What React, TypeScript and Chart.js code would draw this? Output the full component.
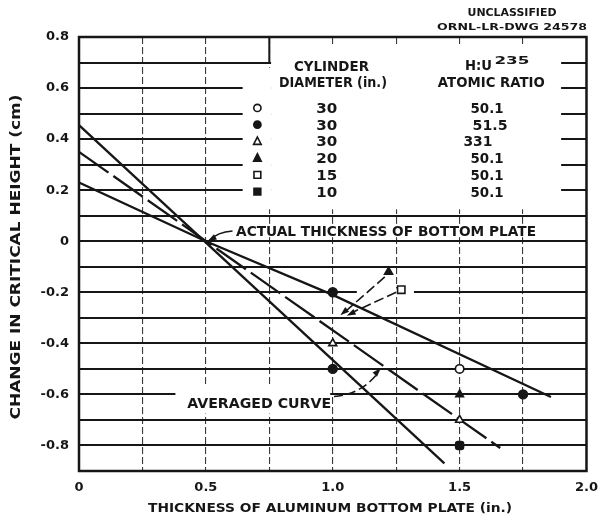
import React, { useEffect, useRef } from 'react';
import { Chart, registerables } from 'chart.js';

Chart.register(...registerables);

// ---------------- data ----------------
const xTickValues = [0, 0.5, 1.0, 1.5, 2.0];
const xTickLabels = ['0', '0.5', '1.0', '1.5', '2.0'];
const yTickValues = [0.8, 0.6, 0.4, 0.2, 0, -0.2, -0.4, -0.6, -0.8];
const yTickLabels = ['0.8', '0.6', '0.4', '0.2', '0', '-0.2', '-0.4', '-0.6', '-0.8'];

// fitted curves (thickness in., change in critical height cm)
const steepThickness = [0, 1.44];
const steepChange = [0.455, -0.87];
const averagedThickness = [0, 1.66];
const averagedChange = [0.35, -0.81];
const shallowThickness = [0, 0.5, 1.0, 1.86];
const shallowChange = [0.23, 0, -0.21, -0.61];

// measured points
const openCircleX = [1.5];
const openCircleY = [-0.5];
const filledCircleX = [1.0, 1.0, 1.75];
const filledCircleY = [-0.2, -0.5, -0.6];
const openTriangleX = [1.0, 1.5];
const openTriangleY = [-0.4, -0.7];
const filledTriangleX = [1.5];
const filledTriangleY = [-0.6];
const filledSquareX = [1.5];
const filledSquareY = [-0.8];

// call-out symbols (point to values near 1.0 in.)
const calloutTriangleX = [1.22];
const calloutTriangleY = [-0.12];
const calloutSquareX = [1.27];
const calloutSquareY = [-0.19];

// legend table
const legendStyles = ['circle', 'circle', 'triangle', 'triangle', 'rect', 'rect'];
const legendFilled = [false, true, false, true, false, true];
const legendDiameters = ['30', '30', '30', '20', '15', '10'];
const legendRatios = ['50.1', '51.5', '331', '50.1', '50.1', '50.1'];

// ---------------- drawing helpers ----------------
const INK = '#161616';
const FAMILY = '"DejaVu Sans", sans-serif';

const pts = (xs: number[], ys: number[]) => xs.map((x, i) => ({ x, y: ys[i] }));

// draws text centred at (cx, cy), stretched horizontally to the given width
function fitText(
  ctx: CanvasRenderingContext2D,
  text: string,
  cx: number,
  cy: number,
  width: number,
  size: number,
  angle = 0,
  weight = 'bold'
) {
  ctx.save();
  ctx.font = `${weight} ${size}px ${FAMILY}`;
  (ctx as any).letterSpacing = '0px';
  const w0 = ctx.measureText(text).width;
  const sx = width / w0;
  ctx.translate(cx, cy);
  ctx.rotate(angle);
  ctx.scale(sx, 1);
  ctx.fillStyle = INK;
  ctx.textAlign = 'center';
  ctx.textBaseline = 'alphabetic';
  ctx.fillText(text, 0, size * 0.365);
  ctx.restore();
}

function arrowHead(ctx: CanvasRenderingContext2D, fx: number, fy: number, tx: number, ty: number, len = 8, half = 3) {
  const a = Math.atan2(ty - fy, tx - fx);
  ctx.beginPath();
  ctx.moveTo(tx, ty);
  ctx.lineTo(tx - len * Math.cos(a) + half * Math.sin(a), ty - len * Math.sin(a) - half * Math.cos(a));
  ctx.lineTo(tx - len * Math.cos(a) - half * Math.sin(a), ty - len * Math.sin(a) + half * Math.cos(a));
  ctx.closePath();
  ctx.fill();
}

function drawMarker(ctx: CanvasRenderingContext2D, style: string, filled: boolean, x: number, y: number) {
  ctx.save();
  ctx.lineWidth = 1.6;
  ctx.strokeStyle = INK;
  ctx.fillStyle = filled ? INK : '#fff';
  ctx.beginPath();
  if (style === 'circle') {
    ctx.arc(x, y, 3.6, 0, Math.PI * 2);
  } else if (style === 'triangle') {
    ctx.moveTo(x, y - 4.4);
    ctx.lineTo(x + 3.8, y + 3);
    ctx.lineTo(x - 3.8, y + 3);
    ctx.closePath();
  } else {
    ctx.rect(x - 3.4, y - 3.4, 6.8, 6.8);
  }
  ctx.fill();
  ctx.stroke();
  ctx.restore();
}

const annotationPlugin = {
  id: 'ornlAnnotations',
  beforeDatasetsDraw(chart: any) {
    const { ctx, chartArea: a, scales } = chart;
    const X = (v: number) => scales.x.getPixelForValue(v);
    const Y = (v: number) => scales.y.getPixelForValue(v);
    const box = (x0: number, x1: number, y0: number, y1: number) =>
      ctx.fillRect(X(x0), Y(y1), X(x1) - X(x0), Y(y0) - Y(y1));
    ctx.save();
    ctx.fillStyle = '#fff';
    // legend panel
    box(0.757, 1.9, 0.125, 0.765);
    box(0.645, 0.757, 0.125, 0.68);
    // label backgrounds
    box(0.6, 1.84, 0.016, 0.068);
    box(0.38, 0.99, -0.675, -0.57);
    box(1.095, 1.32, -0.215, -0.185);
    // bracket at top of legend panel
    ctx.strokeStyle = INK;
    ctx.lineWidth = 2;
    ctx.beginPath();
    ctx.moveTo(X(0.75), Y(0.8));
    ctx.lineTo(X(0.75), Y(0.7));
    ctx.stroke();
    // frame
    ctx.lineWidth = 2.5;
    ctx.strokeRect(a.left, a.top, a.right - a.left, a.bottom - a.top);
    ctx.restore();
  },
  afterDatasetsDraw(chart: any) {
    const { ctx, chartArea: a, scales } = chart;
    const X = (v: number) => scales.x.getPixelForValue(v);
    const Y = (v: number) => scales.y.getPixelForValue(v);

    // legend table
    fitText(ctx, 'CYLINDER', X(0.995), Y(0.686), 75, 13.5);
    fitText(ctx, 'DIAMETER (in.)', X(1.001), Y(0.624), 108, 13.5);
    fitText(ctx, 'H:U', X(1.574), Y(0.689), 27, 13.5);
    fitText(ctx, '235', X(1.706), Y(0.707), 35, 10);
    fitText(ctx, 'ATOMIC RATIO', X(1.625), Y(0.623), 107, 13.5);
    const ratioCentres = [1.608, 1.62, 1.572, 1.608, 1.608, 1.608];
    const ratioWidths = [33, 35, 29, 33, 33, 33];
    legendDiameters.forEach((d, i) => {
      const ry = Y(0.522 - 0.0655 * i);
      drawMarker(ctx, legendStyles[i], legendFilled[i], X(0.703), ry);
      fitText(ctx, d, X(0.976), ry, 21, 13.5);
      fitText(ctx, legendRatios[i], X(ratioCentres[i]), ry, ratioWidths[i], 13.5);
    });

    // labels
    fitText(ctx, 'ACTUAL THICKNESS OF BOTTOM PLATE', X(1.21), Y(0.04), 300, 13.5);
    fitText(ctx, 'AVERAGED CURVE', X(0.71), Y(-0.632), 144, 14);

    ctx.save();
    ctx.strokeStyle = INK;
    ctx.fillStyle = INK;
    ctx.lineWidth = 1.6;
    // arrow to intersection
    ctx.beginPath();
    ctx.moveTo(X(0.605), Y(0.04));
    ctx.quadraticCurveTo(X(0.545), Y(0.035), X(0.515), Y(0.004));
    ctx.stroke();
    arrowHead(ctx, X(0.56), Y(0.03), X(0.507), Y(0.0), 9, 3);
    // averaged curve arrow
    ctx.setLineDash([9, 4]);
    ctx.beginPath();
    ctx.moveTo(X(1.005), Y(-0.608));
    ctx.quadraticCurveTo(X(1.11), Y(-0.6), X(1.175), Y(-0.52));
    ctx.stroke();
    // call-out arrows
    ctx.setLineDash([10, 4]);
    ctx.beginPath();
    ctx.moveTo(X(1.205), Y(-0.14));
    ctx.lineTo(X(1.05), Y(-0.275));
    ctx.moveTo(X(1.25), Y(-0.2));
    ctx.lineTo(X(1.075), Y(-0.28));
    ctx.stroke();
    ctx.setLineDash([]);
    arrowHead(ctx, X(1.13), Y(-0.56), X(1.19), Y(-0.497), 9, 3);
    arrowHead(ctx, X(1.1), Y(-0.23), X(1.03), Y(-0.29), 9, 3);
    arrowHead(ctx, X(1.12), Y(-0.26), X(1.055), Y(-0.292), 9, 3);
    ctx.restore();

    // axis titles
    fitText(ctx, 'THICKNESS OF ALUMINUM BOTTOM PLATE (in.)', 330, 508, 364, 12);
    fitText(ctx, 'CHANGE IN CRITICAL HEIGHT (cm)', 15, (a.top + a.bottom) / 2 + 3, 325, 13.5, -Math.PI / 2);

    // drawing stamp
    fitText(ctx, 'UNCLASSIFIED', 512, 12, 89, 11);
    fitText(ctx, 'ORNL-LR-DWG 24578', 512, 27, 150, 9.5);
  },
};

export default function App() {
  const canvasRef = useRef<HTMLCanvasElement | null>(null);

  useEffect(() => {
    document.body.style.margin = '0';
    const canvas = canvasRef.current;
    if (!canvas) return;

    const scatter = (label: string, xs: number[], ys: number[], style: string, filled: boolean, radius: number) => ({
      type: 'scatter' as const,
      label,
      data: pts(xs, ys),
      showLine: false,
      pointStyle: style,
      pointRadius: radius,
      pointBackgroundColor: filled ? INK : '#fff',
      pointBorderColor: INK,
      pointBorderWidth: 1.6,
    });
    const curve = (label: string, xs: number[], ys: number[], dash: number[]) => ({
      type: 'line' as const,
      label,
      data: pts(xs, ys),
      borderColor: INK,
      borderWidth: 2.3,
      borderDash: dash,
      pointRadius: 0,
      fill: false,
      tension: 0,
    });

    const chart = new Chart(canvas, {
      type: 'scatter',
      data: {
        datasets: [
          scatter('30 in., H:U 50.1', openCircleX, openCircleY, 'circle', false, 4.2),
          scatter('30 in., H:U 51.5', filledCircleX, filledCircleY, 'circle', true, 4.4),
          scatter('30 in., H:U 331', openTriangleX, openTriangleY, 'triangle', false, 4.6),
          scatter('20 in., H:U 50.1', filledTriangleX, filledTriangleY, 'triangle', true, 4.4),
          scatter('10 in., H:U 50.1', filledSquareX, filledSquareY, 'rectRounded', true, 4.6),
          scatter('20 in. call-out', calloutTriangleX, calloutTriangleY, 'triangle', true, 4.6),
          scatter('15 in. call-out', calloutSquareX, calloutSquareY, 'rect', false, 5.2),
          curve('steep', steepThickness, steepChange, []),
          curve('Averaged curve', averagedThickness, averagedChange, [36, 6]),
          curve('shallow', shallowThickness, shallowChange, []),
        ] as any,
      },
      options: {
        responsive: false,
        animation: false,
        layout: { padding: { top: 37, right: 19, bottom: 0, left: 0 } },
        plugins: { legend: { display: false }, tooltip: { enabled: false }, title: { display: false } },
        scales: {
          x: {
            type: 'linear',
            min: 0,
            max: 2,
            afterFit: (s: any) => {
              s.height = 51;
            },
            ticks: {
              stepSize: 0.25,
              autoSkip: false,
              maxRotation: 0,
              padding: 9,
              color: INK,
              font: { family: FAMILY, weight: 'bold', size: 13 },
              callback: (v: any) => {
                const i = xTickValues.findIndex((t) => Math.abs(t - Number(v)) < 1e-6);
                return i >= 0 ? xTickLabels[i] : '';
              },
            },
            grid: { color: '#3a3a3a', lineWidth: 1.1, drawTicks: false },
            border: { display: false, dash: [7, 3] },
          },
          y: {
            type: 'linear',
            min: -0.9,
            max: 0.8,
            afterFit: (s: any) => {
              s.width = 79;
            },
            ticks: {
              stepSize: 0.1,
              autoSkip: false,
              padding: 10,
              color: INK,
              font: { family: FAMILY, weight: 'bold', size: 13 },
              callback: (v: any) => {
                const i = yTickValues.findIndex((t) => Math.abs(t - Number(v)) < 1e-6);
                return i >= 0 ? yTickLabels[i] : '';
              },
            },
            grid: { color: INK, lineWidth: 2, drawTicks: false },
            border: { display: false },
          },
        },
      },
      plugins: [annotationPlugin],
    } as any);

    return () => chart.destroy();
  }, []);

  return (
    <div style={{ position: 'absolute', left: 0, top: 0, width: 607, height: 522, background: '#fff' }}>
      <canvas ref={canvasRef} width={607} height={522} style={{ display: 'block' }} />
    </div>
  );
}
